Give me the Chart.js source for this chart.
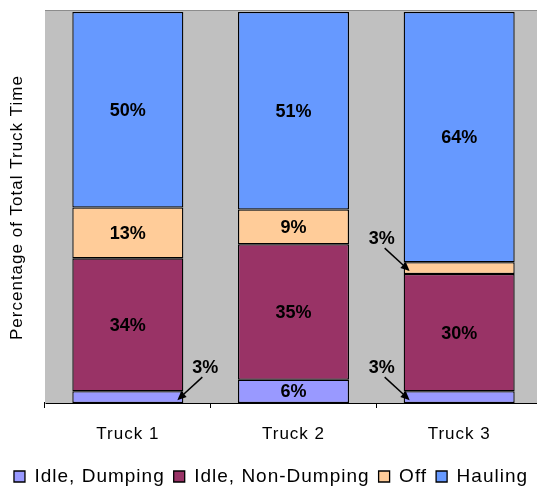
<!DOCTYPE html>
<html>
<head>
<meta charset="utf-8">
<script src="https://cdn.jsdelivr.net/npm/chart.js@4"></script>
<style>
  html, body { margin: 0; padding: 0; background: #fff; overflow: hidden; }
  #wrap { width: 542px; height: 487px; position: relative; }
</style>
</head>
<body>
<div id="wrap"><canvas id="myChart"></canvas></div>
<script>
var trucks = ['Truck 1', 'Truck 2', 'Truck 3']
var idleDumping = [3, 6, 3]
var idleNonDumping = [34, 35, 30]
var off = [13, 9, 3]
var hauling = [50, 51, 64]

var seriesNames = ['Idle, Dumping', 'Idle, Non-Dumping', 'Off', 'Hauling']
var seriesColors = ['#9999FF', '#993366', '#FFCC99', '#6699FF']
var seriesValues = [idleDumping, idleNonDumping, off, hauling]

// thin segments get their label pulled outside with an arrow
var callouts = [
  {series: 0, truck: 0, side: 'right'},
  {series: 0, truck: 2, side: 'left'},
  {series: 2, truck: 2, side: 'left'}
]

var FONT = "'Liberation Sans', Arial, sans-serif"

// 100% stacked: each truck's column adds up to 100
var totals = trucks.map(function (t, i) {
  return seriesValues.reduce(function (s, arr) { return s + arr[i] }, 0)
})

var datasets = seriesNames.map(function (name, k) {
  return {
    label: name,
    raw: seriesValues[k],
    data: seriesValues[k].map(function (v, i) { return v / totals[i] * 100 }),
    backgroundColor: seriesColors[k],
    borderColor: '#000',
    borderWidth: 1.3,
    borderSkipped: false,
    categoryPercentage: 1,
    barPercentage: 0.67
  }
})

function isCallout(k, i) {
  return callouts.some(function (c) { return c.series === k && c.truck === i })
}

var spacing = {
  id: 'spacing',
  beforeLayout: function (chart) { chart.ctx.letterSpacing = '1px' },
  beforeDraw: function (chart) { chart.ctx.letterSpacing = '1px' }
}

var plotBackground = {
  id: 'plotBackground',
  beforeDatasetsDraw: function (chart) {
    var ctx = chart.ctx, a = chart.chartArea
    ctx.save()
    ctx.fillStyle = '#C0C0C0'
    ctx.fillRect(a.left, a.top - 1, a.right - a.left, a.bottom - a.top + 1)
    ctx.strokeStyle = '#8c8c8c'
    ctx.lineWidth = 1
    ctx.beginPath()
    ctx.moveTo(a.left, a.top - 1.5)
    ctx.lineTo(a.right, a.top - 1.5)
    ctx.stroke()
    ctx.restore()
  }
}

var legendHeight = {
  id: 'legendHeight',
  beforeInit: function (chart) {
    var fit = chart.legend.fit
    chart.legend.fit = function () {
      fit.bind(chart.legend)()
      this.height = 29
    }
  }
}

var segmentLabels = {
  id: 'segmentLabels',
  afterDatasetsDraw: function (chart) {
    var ctx = chart.ctx
    ctx.save()
    ctx.letterSpacing = '0px'
    ctx.font = 'bold 18px ' + FONT
    ctx.fillStyle = '#000'
    ctx.textAlign = 'center'
    ctx.textBaseline = 'middle'
    chart.data.datasets.forEach(function (ds, k) {
      chart.getDatasetMeta(k).data.forEach(function (bar, i) {
        if (isCallout(k, i)) return
        ctx.fillText(ds.raw[i] + '%', bar.x, (bar.y + bar.base) / 2 + 1)
      })
    })

    callouts.forEach(function (c) {
      var bar = chart.getDatasetMeta(c.series).data[c.truck]
      var dir = c.side === 'right' ? 1 : -1
      var tipX = bar.x + dir * (bar.width / 2 - 6)
      var tipY = (bar.y + bar.base) / 2 + 3
      var tailX = tipX + dir * 25
      var tailY = tipY - 23
      var ang = Math.atan2(tipY - tailY, tipX - tailX)

      ctx.strokeStyle = '#000'
      ctx.lineWidth = 1.5
      ctx.beginPath()
      ctx.moveTo(tailX, tailY)
      ctx.lineTo(tipX - 6 * Math.cos(ang), tipY - 6 * Math.sin(ang))
      ctx.stroke()
      ctx.beginPath()
      ctx.moveTo(tipX, tipY)
      ctx.lineTo(tipX - 9 * Math.cos(ang) + 4 * Math.sin(ang), tipY - 9 * Math.sin(ang) - 4 * Math.cos(ang))
      ctx.lineTo(tipX - 9 * Math.cos(ang) - 4 * Math.sin(ang), tipY - 9 * Math.sin(ang) + 4 * Math.cos(ang))
      ctx.closePath()
      ctx.fill()

      var raw = chart.data.datasets[c.series].raw[c.truck]
      ctx.fillText(raw + '%', tailX + dir * 3, tailY - 9)
    })
    ctx.restore()
  }
}

var ctx = document.getElementById('myChart').getContext('2d')
var chart = new Chart(ctx, {
  type: 'bar',
  data: { labels: trucks, datasets: datasets },
  options: {
    responsive: true,
    maintainAspectRatio: false,
    animation: false,
    layout: { padding: { top: 12, left: 0, right: 0, bottom: 0 } },
    plugins: {
      tooltip: { enabled: false },
      legend: {
        position: 'bottom',
        labels: {
          color: '#000',
          font: { family: FONT, size: 19 },
          boxWidth: 11,
          boxHeight: 11,
          padding: 9,
          useBorderRadius: false
        }
      }
    },
    scales: {
      x: {
        stacked: true,
        afterFit: function (scale) { scale.height = 55 },
        ticks: { color: '#000', font: { family: FONT, size: 17 }, padding: 16 },
        grid: { display: true, drawOnChartArea: false, drawTicks: true, tickLength: 5, color: '#000' },
        border: { color: '#000', width: 2 }
      },
      y: {
        stacked: true,
        min: 0,
        max: 100,
        afterFit: function (scale) { scale.width = 45 },
        ticks: { display: false },
        grid: { display: false },
        border: { color: '#888', width: 1 },
        title: {
          display: true,
          text: 'Percentage of Total Truck Time',
          color: '#000',
          font: { family: FONT, size: 17 },
          padding: { top: 7, bottom: 0 }
        }
      }
    }
  },
  plugins: [spacing, plotBackground, legendHeight, segmentLabels]
})
</script>
</body>
</html>
